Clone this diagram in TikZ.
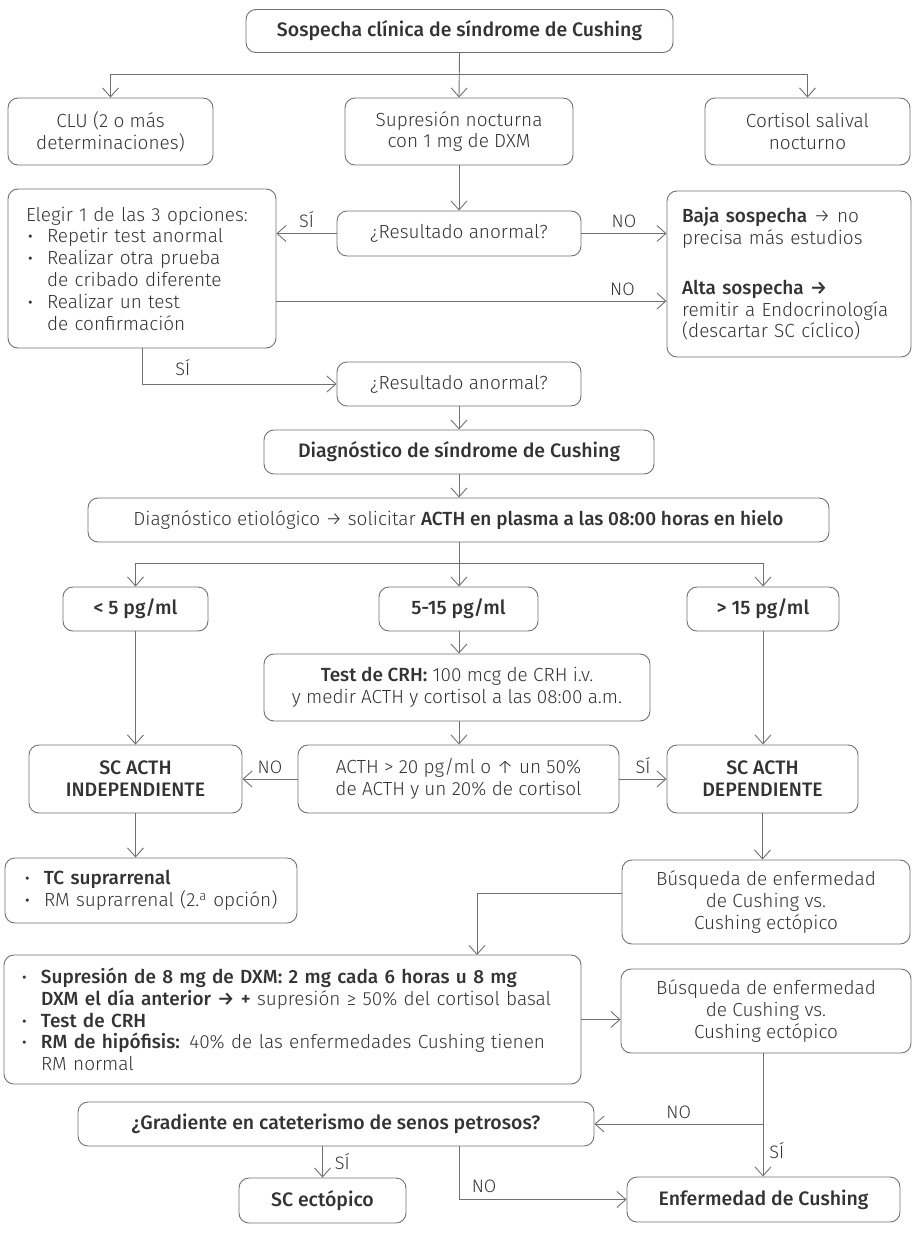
\documentclass[tikz,border=0pt]{standalone}
\usepackage{fontspec}
\setmainfont{Fira Sans Light}[BoldFont={Fira Sans Medium}]
\usetikzlibrary{arrows.meta}
\definecolor{txt}{HTML}{333333}
\definecolor{linec}{HTML}{707070}
\newcommand\itm{\makebox[21pt][l]{\hspace{2pt}\textbf{·}}}
\newcommand\cont{\hspace*{21pt}}
\begin{document}
\begin{tikzpicture}[x=1pt,y=-1pt,
  every node/.style={text=txt, font=\fontsize{19}{21.8}\selectfont},
  box/.style={draw=linec, line width=0.9pt, rounded corners=10pt, align=center, inner sep=0pt},
  bbox/.style={box, font=\fontsize{19.5}{21.8}\selectfont\bfseries},
  lbox/.style={box, align=left, inner ysep=0pt},
  arr/.style={draw=linec, line width=0.9pt, -{Straight Barb[length=9pt,width=16pt]}},
  ln/.style={draw=linec, line width=0.9pt},
  lab/.style={inner sep=0pt, font=\fontsize{18}{20}\selectfont}]
\useasboundingbox (0,0) rectangle (921,1234);

% nodes
\node[bbox, minimum width=427pt, minimum height=43pt] (top) at (459.5,31) {Sospecha clínica de síndrome de Cushing};
\node[box, minimum width=205pt, minimum height=67pt] (clu) at (110.5,131.5) {CLU (2 o más\\determinaciones)};
\node[box, minimum width=228pt, minimum height=67pt] (sup) at (459,131.5) {Supresión nocturna\\con 1 mg de DXM};
\node[box, minimum width=205pt, minimum height=67pt] (cort) at (807.5,131.5) {Cortisol salival\\nocturno};
\node[box, minimum width=244pt, minimum height=45pt] (res1) at (459,233.5) {¿Resultado anormal?};
\node[lbox, text width=232pt, inner xsep=18pt, minimum height=159pt] (eleg) at (142,268.5)
  {Elegir 1 de las 3 opciones:\\
   \itm Repetir test anormal\\
   \itm Realizar otra prueba\\
   \cont de cribado diferente\\
   \itm Realizar un test\\
   \cont de confirmación};
\node[lbox, text width=214pt, inner xsep=15pt, minimum height=166pt] (baja) at (789,274)
  {\textbf{Baja sospecha} → no\\
   precisa más estudios\\[28pt]
   \textbf{Alta sospecha →}\\
   remitir a Endocrinología\\
   (descartar SC cíclico)};
\node[box, minimum width=244pt, minimum height=44pt] (res2) at (459,384) {¿Resultado anormal?};
\node[bbox, minimum width=390pt, minimum height=44pt] (diag) at (459,452) {Diagnóstico de síndrome de Cushing};
\node[box, minimum width=741pt, minimum height=44pt] (etio) at (458.5,520)
  {Diagnóstico etiológico → solicitar \textbf{ACTH en plasma a las 08:00 horas en hielo}};
\node[bbox, minimum width=145pt, minimum height=44pt] (lt5) at (135.5,609) {< 5 pg/ml};
\node[bbox, minimum width=159pt, minimum height=44pt] (mid) at (458.5,609) {5-15 pg/ml};
\node[bbox, minimum width=152pt, minimum height=44pt] (gt15) at (763,609) {> 15 pg/ml};
\node[box, minimum width=386pt, minimum height=67pt] (crh) at (457,687.5)
  {\textbf{Test de CRH:} 100 mcg de CRH i.v.\\y medir ACTH y cortisol a las 08:00 a.m.};
\node[box, minimum width=321pt, minimum height=68pt] (acth) at (458.5,779)
  {ACTH > 20 pg/ml o ↑ un 50\%\\de ACTH y un 20\% de cortisol};
\node[bbox, minimum width=213pt, minimum height=68pt] (ind) at (135.5,779) {SC ACTH\\INDEPENDIENTE};
\node[bbox, minimum width=191pt, minimum height=68pt] (dep) at (762.5,779) {SC ACTH\\DEPENDIENTE};
\node[lbox, text width=256pt, inner xsep=18pt, minimum height=65pt] (tc) at (151,890.5)
  {\itm\textbf{TC suprarrenal}\\
   \itm RM suprarrenal (2.\textsuperscript{a} opción)};
\node[box, minimum width=288pt, minimum height=84pt] (bus1) at (766,902)
  {Búsqueda de enfermedad\\de Cushing vs.\\Cushing ectópico};
\node[lbox, text width=545pt, inner xsep=16pt, minimum height=129pt] (sup8) at (292.5,1019.5)
  {\itm\textbf{Supresión de 8 mg de DXM: 2 mg cada 6 horas u 8 mg}\\
   \cont\textbf{DXM el día anterior → +} supresión ≥ 50\% del cortisol basal\\
   \itm\textbf{Test de CRH}\\
   \itm\textbf{RM de hipófisis:} 40\% de las enfermedades Cushing tienen\\
   \cont RM normal};
\node[box, minimum width=290pt, minimum height=84pt] (bus2) at (766,1011)
  {Búsqueda de enfermedad\\de Cushing vs.\\Cushing ectópico};
\node[bbox, minimum width=516pt, minimum height=44pt] (grad) at (336,1124)
  {¿Gradiente en cateterismo de senos petrosos?};
\node[bbox, minimum width=167pt, minimum height=45pt] (ect) at (322.5,1200.5) {SC ectópico};
\node[bbox, minimum width=273pt, minimum height=45pt] (enf) at (763.5,1199.5) {Enfermedad de Cushing};

% helper coordinates
\coordinate (j1) at (459,74);
\coordinate (j2) at (459,563);
\coordinate (e301) at (0,301);
\coordinate (b893) at (0,893);
\coordinate (c8) at (477,955);
\coordinate (k) at (763,1124);
\coordinate (kb) at (763,1053);
\coordinate (gx) at (459,0);
\coordinate (m459) at (459,0);

% connectors
\draw[arr] (top.south) -- (sup.north);
\draw[arr] (j1) -| (clu.north);
\draw[arr] (j1) -| (cort.north);
\draw[arr] (sup.south) -- (res1.north);
\draw[arr] (res1.west) -- (res1.west -| eleg.east) node[lab, midway, above=5pt] {SÍ};
\draw[arr] (res1.east) -- (res1.east -| baja.west) node[lab, midway, above=5pt] {NO};
\draw[arr] (eleg.east |- e301) -- (baja.west |- e301) node[lab, pos=0.887, above=5pt] {NO};
\draw[arr] (eleg.south) |- (res2.west) node[lab, pos=0.605, above=8pt] {SÍ};
\draw[arr] (res2.south) -- (diag.north);
\draw[arr] (diag.south) -- (diag.south |- etio.north);
\draw[arr] (m459 |- etio.south) -- (m459 |- mid.north);
\draw[arr] (j2) -| (lt5.north);
\draw[arr] (j2) -| (gt15.north);
\draw[arr] (m459 |- mid.south) -- (m459 |- crh.north);
\draw[arr] (m459 |- crh.south) -- (m459 |- acth.north);
\draw[arr] (acth.west) -- (ind.east) node[lab, midway, above=5pt] {NO};
\draw[arr] (acth.east) -- (dep.west) node[lab, midway, above=5pt] {SÍ};
\draw[arr] (lt5.south) -- (ind.north);
\draw[arr] (gt15.south) -- (gt15.south |- dep.north);
\draw[arr] (ind.south) -- (ind.south |- tc.north);
\draw[arr] (dep.south) -- (dep.south |- bus1.north);
\draw[arr] (bus1.west |- b893) -| (c8);
\draw[arr] (sup8.east) -- (sup8.east -| bus2.west);
\draw[ln] (kb) -- (k);
\draw[arr] (k) -- (k -| grad.east) node[lab, midway, above=5pt] {NO};
\draw[arr] (k) -- (k |- enf.north) node[lab, midway, right=6pt] {SÍ};
\draw[arr] (ect.north |- grad.south) -- (ect.north) node[lab, midway, right=12pt] {SÍ};
\draw[arr] (gx |- grad.south) |- (enf.west) node[lab, pos=0.575, above=6pt] {NO};
\end{tikzpicture}
\end{document}
